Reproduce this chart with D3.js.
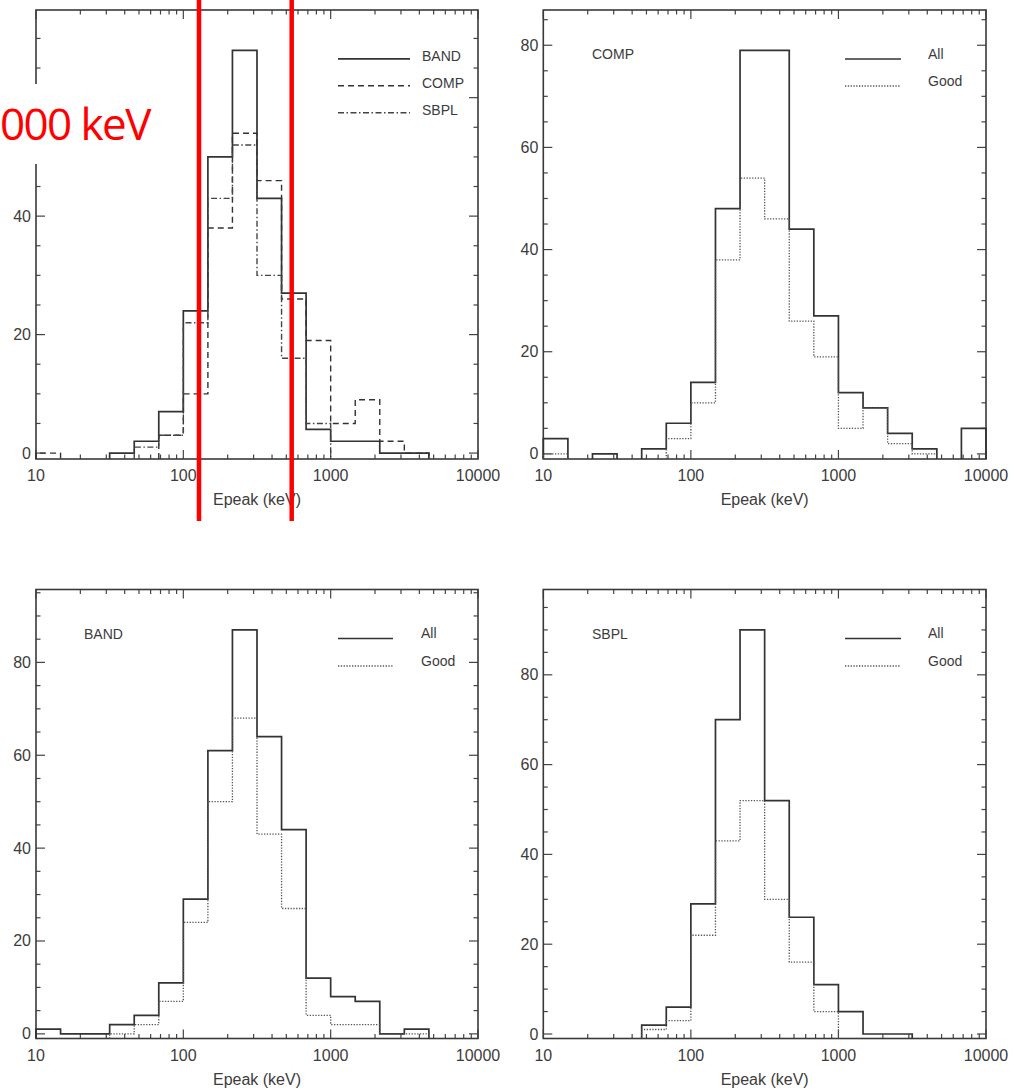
<!DOCTYPE html>
<meta charset="utf-8">
<style>
  body { margin: 0; background: #fff; }
  svg { display: block; }
  .lbl { font-family: "Liberation Sans", Arial, sans-serif; fill: #3c3c3c; }
</style>
<script src="https://d3js.org/d3.v7.min.js"></script>
<body>
<script>

// histogram bin edges (keV), six bins per decade
var EDGES = [10, 14.68, 21.54, 31.62, 46.42, 68.13, 100, 146.8, 215.4, 316.2, 464.2, 681.3,
             1000, 1468, 2154, 3162, 4642, 6813, 10000];

// counts per bin, null = bin not drawn
var BAND_ALL  = [1, 0, 0, 2, 4, 11, 29, 61, 87, 64, 44, 12, 8, 7, 0, 1, null, null];
var BAND_GOOD = [null, null, null, 0, 2, 7, 24, 50, 68, 43, 27, 4, 2, 2, 0, 0, null, null];
var COMP_ALL  = [3, null, 0, null, 1, 6, 14, 48, 79, 79, 44, 27, 12, 9, 4, 1, null, 5];
var COMP_GOOD = [0, null, null, null, null, 3, 10, 38, 54, 46, 26, 19, 5, 9, 2, 0, null, null];
var SBPL_ALL  = [null, null, null, null, 2, 6, 29, 70, 90, 52, 26, 11, 5, 0, 0, null, null, null];
var SBPL_GOOD = [null, null, null, null, 1, 3, 22, 43, 52, 30, 16, 5, null, null, null, null, null, null];

var X_LABELS = [10, 100, 1000, 10000];
var Y_MAJOR = [0, 20, 40, 60, 80];
var X_TITLE = "Epeak (keV)";

var STYLES = {
  solid:   { dash: null,              color: "#333", width: 1.7 },
  dashed:  { dash: "6,4",             color: "#333", width: 1.4 },
  dashdot: { dash: "6,2.5,1.5,2.5",   color: "#444", width: 1.4 },
  dotted:  { dash: "1.3,1.5",         color: "#555", width: 1.3 }
};

var panels = [
  { x0: 36, x1: 478, yTop: 10, yBot: 459, yMax: 74.8, title: null, hideY: [60],
    series: [[BAND_GOOD, "solid"], [COMP_GOOD, "dashed"], [SBPL_GOOD, "dashdot"]],
    legend: [["BAND", "solid"], ["COMP", "dashed"], ["SBPL", "dashdot"]],
    lx0: 338, lx1: 410, ltx: 422, ly: 58.8, lstep: 27, ldy: -2.5 },
  { x0: 543.3, x1: 986, yTop: 10, yBot: 459, yMax: 86.9, title: "COMP", tx: 592, hideY: [],
    series: [[COMP_ALL, "solid"], [COMP_GOOD, "dotted"]],
    legend: [["All", "solid"], ["Good", "dotted"]],
    lx0: 845, lx1: 901, ltx: 928, ly: 59, lstep: 27, ldy: -5 },
  { x0: 36, x1: 478, yTop: 589.5, yBot: 1038.5, yMax: 95.7, title: "BAND", tx: 84, hideY: [],
    series: [[BAND_ALL, "solid"], [BAND_GOOD, "dotted"]],
    legend: [["All", "solid"], ["Good", "dotted"]],
    lx0: 338, lx1: 393, ltx: 421, ly: 638.5, lstep: 27.5, ldy: -5.5 },
  { x0: 543.3, x1: 986, yTop: 589.5, yBot: 1038.5, yMax: 99, title: "SBPL", tx: 592, hideY: [],
    series: [[SBPL_ALL, "solid"], [SBPL_GOOD, "dotted"]],
    legend: [["All", "solid"], ["Good", "dotted"]],
    lx0: 845, lx1: 901, ltx: 928, ly: 638.5, lstep: 27.5, ldy: -5.5 }
];

var svg = d3.select("body").append("svg")
    .attr("width", 1014)
    .attr("height", 1091);

// step outline of each contiguous run of drawn bins, dropping to the axis floor at both ends
function histPath(vals, x, y) {
  var d = "";
  var floor = y(-1);
  var i = 0;
  while (i < vals.length) {
    if (vals[i] === null) { i++; continue; }
    d += "M" + x(EDGES[i]) + "," + floor;
    while (i < vals.length && vals[i] !== null) {
      d += "L" + x(EDGES[i]) + "," + y(vals[i]) + "L" + x(EDGES[i + 1]) + "," + y(vals[i]);
      i++;
    }
    d += "L" + x(EDGES[i]) + "," + floor;
  }
  return d;
}

function applyStyle(sel, key) {
  var s = STYLES[key];
  sel.attr("fill", "none")
     .attr("stroke", s.color)
     .attr("stroke-width", s.width)
     .attr("stroke-dasharray", s.dash);
}

panels.forEach(function(p) {
  var x = d3.scaleLog().domain([10, 10000]).range([p.x0, p.x1]);
  var y = d3.scaleLinear().domain([-1, p.yMax]).range([p.yBot, p.yTop]);
  var g = svg.append("g");

  // x ticks, bottom and top, pointing inward
  x.ticks().forEach(function(t) {
    var major = X_LABELS.indexOf(t) >= 0;
    var len = major ? 9 : 4.5;
    g.append("line").attr("x1", x(t)).attr("x2", x(t))
      .attr("y1", p.yBot).attr("y2", p.yBot - len)
      .attr("stroke", "#444").attr("stroke-width", 1.2);
    g.append("line").attr("x1", x(t)).attr("x2", x(t))
      .attr("y1", p.yTop).attr("y2", p.yTop + len)
      .attr("stroke", "#444").attr("stroke-width", 1.2);
  });

  // y ticks every 5, major every 20, left and right
  d3.range(0, p.yMax, 5).forEach(function(t) {
    var major = Y_MAJOR.indexOf(t) >= 0;
    var len = major ? 9 : 4.5;
    g.append("line").attr("x1", p.x0).attr("x2", p.x0 + len)
      .attr("y1", y(t)).attr("y2", y(t))
      .attr("stroke", "#444").attr("stroke-width", 1.2);
    g.append("line").attr("x1", p.x1).attr("x2", p.x1 - len)
      .attr("y1", y(t)).attr("y2", y(t))
      .attr("stroke", "#444").attr("stroke-width", 1.2);
  });

  g.append("rect")
    .attr("x", p.x0).attr("y", p.yTop)
    .attr("width", p.x1 - p.x0).attr("height", p.yBot - p.yTop)
    .attr("fill", "none").attr("stroke", "#3a3a3a").attr("stroke-width", 1.6);

  // tick labels
  X_LABELS.forEach(function(t) {
    g.append("text").attr("class", "lbl")
      .attr("x", x(t)).attr("y", p.yBot + 22)
      .attr("text-anchor", "middle")
      .attr("font-size", 16)
      .text(t);
  });
  Y_MAJOR.filter(function(t) { return t < p.yMax && p.hideY.indexOf(t) < 0; }).forEach(function(t) {
    g.append("text").attr("class", "lbl")
      .attr("x", p.x0 - 5).attr("y", y(t) + 5.5)
      .attr("text-anchor", "end")
      .attr("font-size", 16)
      .text(t);
  });

  g.append("text").attr("class", "lbl")
    .attr("x", (p.x0 + p.x1) / 2).attr("y", p.yBot + 46)
    .attr("text-anchor", "middle")
    .attr("font-size", 16)
    .text(X_TITLE);

  // histograms
  p.series.forEach(function(s) {
    g.append("path")
      .attr("d", histPath(s[0], x, y))
      .call(applyStyle, s[1]);
  });

  if (p.title) {
    g.append("text").attr("class", "lbl")
      .attr("x", p.tx).attr("y", p.yTop + 44 + 5)
      .attr("font-size", 14)
      .text(p.title);
  }

  p.legend.forEach(function(l, i) {
    var ly = p.ly + i * p.lstep;
    g.append("line")
      .attr("x1", p.lx0).attr("x2", p.lx1)
      .attr("y1", ly).attr("y2", ly)
      .call(applyStyle, l[1]);
    g.append("text").attr("class", "lbl")
      .attr("x", p.ltx).attr("y", ly + p.ldy + 5)
      .attr("font-size", 14)
      .text(l[0]);
  });
});

// overlay annotation: white patch, red note and the two red markers
svg.append("rect")
  .attr("x", 0).attr("y", 84)
  .attr("width", 150).attr("height", 80)
  .attr("fill", "#fff");

svg.append("text")
  .attr("x", 0).attr("y", 140)
  .attr("font-family", "'Open Sans', sans-serif")
  .attr("font-size", 44)
  .attr("letter-spacing", -1.6)
  .attr("fill", "#f00")
  .text("000 keV");

[199, 291.7].forEach(function(xv) {
  svg.append("line")
    .attr("x1", xv).attr("x2", xv)
    .attr("y1", 0).attr("y2", 521)
    .attr("stroke", "#f00")
    .attr("stroke-width", 4.5);
});

</script>
</body>
